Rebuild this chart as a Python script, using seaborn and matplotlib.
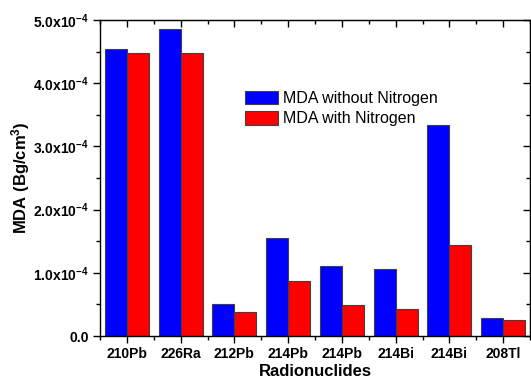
import numpy as np
import pandas as pd
import matplotlib
matplotlib.use("Agg")
import matplotlib.pyplot as plt
import seaborn as sns
from matplotlib.ticker import FixedLocator, MultipleLocator

# ---- data ----
nuclides = ['210Pb', '226Ra', '212Pb', '214Pb', '214Pb', '214Bi', '214Bi', '208Tl']
mda_without_n2 = [4.54e-4, 4.85e-4, 0.51e-4, 1.555e-4, 1.11e-4, 1.06e-4, 3.34e-4, 0.28e-4]
mda_with_n2 = [4.47e-4, 4.47e-4, 0.375e-4, 0.87e-4, 0.495e-4, 0.43e-4, 1.44e-4, 0.25e-4]
series_names = ['MDA without Nitrogen', 'MDA with Nitrogen']
ytick_vals = [0.0, 1e-4, 2e-4, 3e-4, 4e-4, 5e-4]
ytick_labels = ['0.0', '1.0x10$^{-4}$', '2.0x10$^{-4}$', '3.0x10$^{-4}$', '4.0x10$^{-4}$', '5.0x10$^{-4}$']
colors = ['#0000FF', '#FF0000']

slots = [str(i) for i in range(len(nuclides))]
df = pd.DataFrame({
    'slot': slots * 2,
    'value': mda_without_n2 + mda_with_n2,
    'series': [series_names[0]] * len(slots) + [series_names[1]] * len(slots),
})

sns.set_style('white', {'xtick.bottom': True, 'ytick.left': True,
                        'text.color': 'black', 'axes.labelcolor': 'black',
                        'xtick.color': 'black', 'ytick.color': 'black'})
plt.rcParams['font.family'] = ['Liberation Sans', 'DejaVu Sans']
plt.rcParams['mathtext.fontset'] = 'custom'
plt.rcParams['mathtext.rm'] = 'Liberation Sans:bold'
plt.rcParams['mathtext.it'] = 'Liberation Sans:bold'
plt.rcParams['mathtext.bf'] = 'Liberation Sans:bold'
plt.rcParams['mathtext.default'] = 'regular'

fig = plt.figure(figsize=(5.31, 3.78), dpi=100)
ax = fig.add_axes([100 / 531, 1 - 336 / 378, 430 / 531, 316 / 378])

sns.barplot(data=df, x='slot', y='value', hue='series', order=slots,
            hue_order=series_names, palette=colors, width=0.82, gap=0,
            edgecolor='#404040', linewidth=0.8, saturation=1, ax=ax, legend=True)

ax.set_xlim(-0.5, len(nuclides) - 0.5)
ax.set_ylim(0, 5e-4)

for sp in ax.spines.values():
    sp.set_visible(True)
    sp.set_color('black')
    sp.set_linewidth(1.0)

ax.set_xticks(range(len(nuclides)))
ax.set_xticklabels(nuclides, fontsize=10, fontweight='bold')
ax.xaxis.set_minor_locator(FixedLocator(np.arange(-0.5, len(nuclides), 1.0)))
ax.set_yticks(ytick_vals)
ax.set_yticklabels(ytick_labels, fontsize=10, fontweight='bold')
ax.yaxis.set_minor_locator(MultipleLocator(0.5e-4))
ax.tick_params(which='major', direction='out', length=5, width=1, color='black',
               labelcolor='black', bottom=True, left=True, top=False, right=False, pad=3)
ax.tick_params(which='minor', direction='out', length=3, width=1, color='black',
               bottom=True, left=True, top=False, right=False)

# mirrored inward ticks on top and right
sx = ax.secondary_xaxis('top')
sx.set_xticks(range(len(nuclides)))
sx.xaxis.set_minor_locator(FixedLocator(np.arange(-0.5, len(nuclides), 1.0)))
sx.tick_params(which='major', direction='in', length=5, width=1, color='black',
               top=True, labeltop=False)
sx.tick_params(which='minor', direction='in', length=3, width=1, color='black', top=True)
sx.set_xticklabels([])
sy = ax.secondary_yaxis('right')
sy.set_yticks(ytick_vals)
sy.yaxis.set_minor_locator(MultipleLocator(0.5e-4))
sy.tick_params(which='major', direction='in', length=5, width=1, color='black',
               right=True, labelright=False)
sy.tick_params(which='minor', direction='in', length=3, width=1, color='black', right=True)
sy.set_yticklabels([])

ax.set_xlabel('Radionuclides', fontsize=12, fontweight='bold', labelpad=2, color='black')
ax.set_ylabel('MDA (Bg/cm$^3$)', fontsize=12, fontweight='bold', labelpad=1, color='black')

handles, labels = ax.get_legend_handles_labels()
leg = ax.legend(handles, labels, loc='upper left', bbox_to_anchor=(245 / 531, 1 - 91 / 378),
                bbox_transform=fig.transFigure, frameon=False, fontsize=11.5,
                handlelength=2.05, handleheight=0.9, handletextpad=0.3,
                labelspacing=0.32, borderpad=0, borderaxespad=0)
for t in leg.get_texts():
    t.set_color('black')

fig.savefig('out.png', dpi=100)
